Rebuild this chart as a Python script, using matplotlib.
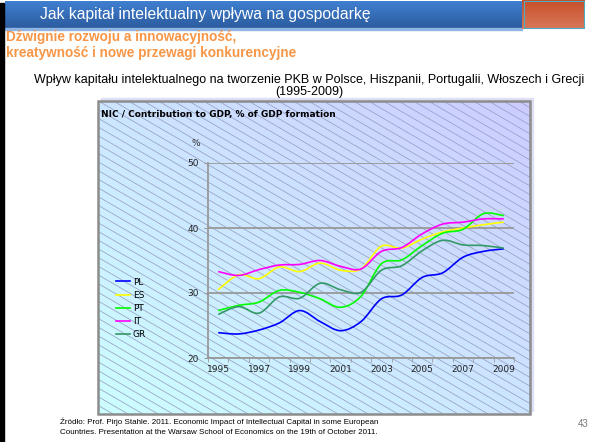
import numpy as np
import matplotlib
matplotlib.use("Agg")
import matplotlib.pyplot as plt
from matplotlib.path import Path
from matplotlib.patches import PathPatch, Rectangle
from matplotlib.collections import LineCollection
from matplotlib.lines import Line2D

years = list(range(1995, 2010))
PL = [23.9, 23.7, 24.3, 25.4, 27.3, 25.6, 24.2, 25.6, 29.1, 29.7, 32.4, 33.1, 35.5, 36.4, 36.8]
ES = [30.5, 32.8, 32.2, 34.0, 33.3, 34.6, 33.5, 33.7, 37.2, 36.9, 38.3, 39.4, 40.0, 40.5, 40.9]
PT = [27.3, 28.1, 28.6, 30.4, 30.1, 29.1, 27.8, 29.5, 34.5, 35.1, 37.3, 39.2, 39.8, 42.2, 41.9]
IT = [33.3, 32.7, 33.6, 34.3, 34.4, 35.0, 34.1, 33.7, 36.4, 37.0, 39.1, 40.6, 40.9, 41.4, 41.4]
GR = [26.7, 27.9, 26.9, 29.4, 29.2, 31.5, 30.5, 30.1, 33.5, 34.2, 36.5, 38.1, 37.4, 37.3, 36.9]
series = [("PL", PL, "#0000ff"), ("ES", ES, "#ffff00"), ("PT", PT, "#00ff00"),
          ("IT", IT, "#ff00ff"), ("GR", GR, "#339966")]

sans = ["Liberation Sans", "DejaVu Sans"]

W, H = 611, 442
fig = plt.figure(figsize=(W / 100, H / 100), dpi=100)

# slide layer in pixel coordinates
bg = fig.add_axes([0, 0, 1, 1])
bg.set_xlim(0, W)
bg.set_ylim(H, 0)
bg.axis("off")

# header bar
grad = np.linspace(0, 1, 64).reshape(-1, 1)
top_c = np.array([0.25, 0.50, 0.82])
bot_c = np.array([0.17, 0.36, 0.62])
img = top_c * (1 - grad[..., None]) + bot_c * grad[..., None]
bg.imshow(np.repeat(img, 2, axis=1), extent=[5, 522, 28, 1], aspect="auto", zorder=1)
bg.add_patch(Rectangle((5, 28), 517, 2, color="#8fb4e3", zorder=1))
o_top = np.array([0.78, 0.31, 0.16])
o_bot = np.array([0.85, 0.47, 0.36])
img = o_top * (1 - grad[..., None]) + o_bot * grad[..., None]
bg.imshow(np.repeat(img, 2, axis=1), extent=[522, 585, 29, 0], aspect="auto", zorder=1)
bg.add_patch(Rectangle((523.5, 1), 60, 27, fill=False, ec="#4bacc6", lw=0.8, zorder=2))
bg.add_patch(Rectangle((0, 3), 4, H, color="black", zorder=2))

bg.text(40, 15, "Jak kapitał intelektualny wpływa na gospodarkę", color="white",
        fontsize=11.3, family=sans, va="center", zorder=3)
bg.text(6, 37, "Dźwignie rozwoju a innowacyjność,", color="#f79646",
        fontsize=9.8, family=sans, weight="bold", va="center")
bg.text(6, 53, "kreatywność i nowe przewagi konkurencyjne", color="#f79646",
        fontsize=9.8, family=sans, weight="bold", va="center")
bg.text(309, 80, "Wpływ kapitału intelektualnego na tworzenie PKB w Polsce, Hiszpanii, Portugalii, Włoszech i Grecji",
        fontsize=9.0, family=sans, ha="center", va="center")
bg.text(309, 92, "(1995-2009)", fontsize=9.0, family=sans, ha="center", va="center")

# chart box with gradient and hatch
x0, x1, y0, y1 = 98, 530, 101, 414
bg.add_patch(Rectangle((x0 + 3, y0 - 3), x1 - x0, y1 - y0, color="#dde0f5", zorder=1))
nx, ny = 120, 90
gx = np.linspace(0, 1, nx)[None, :]
gy = np.linspace(0, 1, ny)[:, None]
t = np.clip((gx + (1 - gy)) / 2, 0, 1)
cyan = np.array([0.80, 1.0, 1.0])
lav = np.array([0.80, 0.80, 1.0])
img = cyan * (1 - t[..., None]) + lav * t[..., None]
bg.imshow(img, extent=[x0, x1, y1, y0], aspect="auto", zorder=2)
bg.add_patch(Rectangle((x0, y0), x1 - x0, y1 - y0, fill=False, ec="#8c8c8c", lw=1.8, zorder=4))

# diagonal hatch, clipped to the box by hand
slope = 0.58
segs = []
for c in np.arange(x0 - (y1 - y0) / slope, x1, 15):
    xa = max(x0, c)
    xb = min(x1, c + (y1 - y0) / slope)
    if xb <= xa:
        continue
    segs.append([(xa, y0 + slope * (xa - c)), (xb, y0 + slope * (xb - c))])
bg.add_collection(LineCollection(segs, colors="#97a0c2", linewidths=0.55, zorder=3))

bg.text(101, 115, "NIC / Contribution to GDP, % of GDP formation", fontsize=6.5,
        weight="bold", va="center", zorder=5)
bg.text(196, 143, "%", fontsize=6.5, ha="center", va="center", color="#333333", zorder=5)

bg.text(60, 422, "Źródło: Prof. Pirjo Stahle. 2011. Economic Impact of Intellectual Capital in some European",
        fontsize=5.8, family=sans, va="center")
bg.text(60, 433, "Countries. Presentation at the Warsaw School of Economics on the 19th of October 2011.",
        fontsize=5.8, family=sans, va="center")
bg.text(583, 424, "43", fontsize=7, family=sans, color="#777777", ha="center", va="center")

# plot area
ax = fig.add_axes([208 / W, 1 - 358 / H, 306 / W, 195 / H], zorder=5)
ax.patch.set_alpha(0)
ax.set_xlim(1994.5, 2009.5)
ax.set_ylim(20, 50)
ax.set_yticks([20, 30, 40, 50])
ax.yaxis.grid(True, color="#999999", lw=1.3)
ax.set_axisbelow(True)
ax.set_xticks(years[::2])
ax.set_xticks(np.arange(1994.5, 2010, 1), minor=True)
for s in ["top", "right"]:
    ax.spines[s].set_visible(False)
for s in ["left", "bottom"]:
    ax.spines[s].set_color("#999999")
    ax.spines[s].set_linewidth(1.3)
ax.tick_params(axis="x", which="major", length=0, labelsize=6.5, pad=5, colors="#222222")
ax.tick_params(axis="x", which="minor", length=3, color="#999999")
ax.tick_params(axis="y", length=3, color="#999999", labelsize=6.5, labelcolor="#222222")


def smooth_path(xs, ys):
    pts = np.column_stack([xs, ys]).astype(float)
    verts = [pts[0]]
    codes = [Path.MOVETO]
    n = len(pts)
    for i in range(n - 1):
        p0 = pts[i - 1] if i > 0 else pts[i]
        p1, p2 = pts[i], pts[i + 1]
        p3 = pts[i + 2] if i + 2 < n else pts[i + 1]
        c1 = p1 + (p2 - p0) / 6
        c2 = p2 - (p3 - p1) / 6
        verts += [c1, c2, p2]
        codes += [Path.CURVE4] * 3
    return Path(verts, codes)


handles = []
for name, vals, col in series:
    ax.add_patch(PathPatch(smooth_path(years, vals), fill=False, ec=col, lw=1.2, zorder=3))
    handles.append(Line2D([], [], color=col, lw=1.2, label=name))

fig.legend(handles=handles, loc="upper left", bbox_to_anchor=(112 / W, 1 - 274 / H),
           frameon=False, fontsize=6.5, handlelength=1.6, labelspacing=0.45,
           handletextpad=0.3, borderaxespad=0)

fig.savefig("out.png", dpi=100)
